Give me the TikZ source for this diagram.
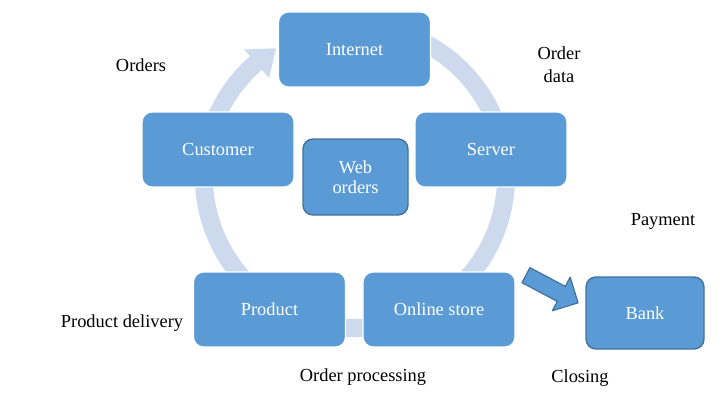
\documentclass[tikz,border=0pt]{standalone}
\usepackage{fontspec}
\setmainfont{Liberation Serif}
\usetikzlibrary{calc}
\definecolor{boxblue}{HTML}{5B9BD5}
\definecolor{boxedge}{HTML}{41719C}
\definecolor{ringblue}{HTML}{CDDAEE}
\newcommand{\lblfont}{\fontsize{9.2pt}{11.5pt}\selectfont}

\begin{document}
\begin{tikzpicture}[x = .5pt, y = .5pt,
  box/.style = {draw = white, line width = .6pt, fill = boxblue, rounded corners = 5pt,
    text = white, inner sep = 0pt, minimum width = 76pt, minimum height = 37.5pt,
    font = \lblfont, align = center},
  darkbox/.style = {box, draw = boxedge, line width = .7pt},
  lbl/.style = {inner sep = 0pt, font = \lblfont, align = center}]
\useasboundingbox (0,0) rectangle (726,-401);
% the cycle ring
\coordinate (c) at (355,-177);
\draw[ringblue, line width = 9pt] ($(c)+(80:151)$) arc[start angle = 80, end angle = -229, radius = 151];
\fill[ringblue] ($(c)+(131:131)$) -- ($(c)+(131:169)$) -- ($(c)+(121.5:151)$) -- cycle;
% boxes
\node[box] (internet) at (354.5,-49.5) {Internet};
\node[box] (customer) at (218,-149.5) {Customer};
\node[box] (server) at (491,-149.5) {Server};
\node[darkbox, minimum width = 52.5pt, minimum height = 38pt,
  font = \fontsize{9.2pt}{10pt}\selectfont] (web) at (355.5,-177) {Web\\orders};
\node[box] (product) at (269.5,-309.5) {Product};
\node[box] (store) at (439,-309.5) {Online store};
\node[darkbox, minimum width = 59pt, minimum height = 36pt] (bank) at (645,-313) {Bank};
% block arrow to the bank
\begin{scope}[shift = {(552,-289)}, rotate = -28]
\draw[boxedge, line width = .6pt, fill = boxblue, line join = round]
  (-29.5,8.5) -- (10.5,8.5) -- (10.5,19) -- (29.5,0) -- (10.5,-19) -- (10.5,-8.5) -- (-29.5,-8.5) -- cycle;
\end{scope}
% labels
\node[lbl] (orders) at (141,-65) {Orders};
\node[lbl] (orderdata) at (559,-64.5) {Order\\data};
\node[lbl] (payment) at (663,-221) {Payment};
\node[lbl] (delivery) at (122,-323) {Product delivery};
\node[lbl] (processing) at (363,-377) {Order processing};
\node[lbl] (closing) at (580,-378) {Closing};
\end{tikzpicture}
\end{document}
